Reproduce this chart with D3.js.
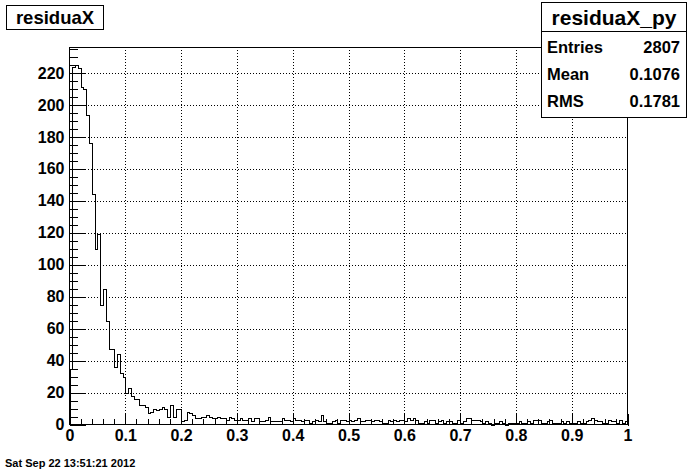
<!DOCTYPE html>
<html><head><meta charset="utf-8">
<script src="https://cdn.jsdelivr.net/npm/d3@7"></script>
<style>
html,body{margin:0;padding:0;background:#fff;}
svg{display:block;}
text{font-family:"Liberation Sans",Arial,Helvetica,sans-serif;font-weight:bold;fill:#000;}
</style></head>
<body>
<svg id="c" width="696" height="472"></svg>
<script>
// ---- data ----
const histTitle = "residuaX";
const statsTitle = "residuaX_py";
const statNames = ["Entries", "Mean", "RMS"];
const statValues = ["2807", "0.1076", "0.1781"];
const xRange = [0, 1];
const nBins = 200;
const counts = [
  35,224,225,223,211,210,194,176,144,110,119,75,85,65,47,47,36,44,32,30,
  20,23,18,16,16,12,12,11,7,8,10,9,10,11,10,5,12,5,10,10,
  2,3,8,7,6,4,4,5,5,6,5,4,4,5,4,4,3,5,4,3,
  3,4,3,3,4,2,4,4,2,2,3,5,2,2,2,2,4,3,3,2,
  4,3,3,2,3,3,1,2,3,2,6,2,1,1,2,3,1,3,3,2,
  3,2,3,4,2,2,3,3,2,3,3,2,1,1,3,2,3,2,3,3,
  2,4,3,4,3,1,1,2,1,3,3,1,2,3,1,2,2,1,1,3,
  1,2,4,4,3,3,3,2,1,2,1,0,1,1,2,1,0,1,1,1,
  1,2,1,1,2,1,3,3,3,1,1,2,3,1,1,1,2,1,2,1,
  1,1,2,1,1,2,3,4,3,2,2,1,1,3,2,2,1,3,1,2
];
const xTickValues = [0,0.1,0.2,0.3,0.4,0.5,0.6,0.7,0.8,0.9,1];
const xTickLabels = ["0","0.1","0.2","0.3","0.4","0.5","0.6","0.7","0.8","0.9","1"];
const yTickValues = [0,20,40,60,80,100,120,140,160,180,200,220];
const dateText = "Sat Sep 22 13:51:21 2012";

// ---- layout ----
const svg = d3.select("#c");
const L = 69.5, R = 627.5, B = 424.5;
const yMax = d3.max(counts) * 1.05;
const x = d3.scaleLinear().domain(xRange).range([L, R]);
const y = d3.scaleLinear().domain([0, yMax]).range([B, 47]);
const T = y(yMax);

svg.append("rect").attr("width",696).attr("height",472).attr("fill","#fff");

// grid
const g = svg.append("g").attr("stroke","#000").attr("stroke-width",1).attr("stroke-dasharray","1,2").attr("shape-rendering","crispEdges");
xTickValues.slice(1,-1).forEach(v=>{
  g.append("line").attr("x1",Math.round(x(v))+0.5).attr("x2",Math.round(x(v))+0.5).attr("y1",T).attr("y2",B);
});
yTickValues.slice(1).forEach(v=>{
  g.append("line").attr("x1",L).attr("x2",R).attr("y1",Math.round(y(v))+0.5).attr("y2",Math.round(y(v))+0.5);
});

// histogram outline
const bw = (xRange[1]-xRange[0])/nBins;
const pts = [[xRange[0],0]];
counts.forEach((c,i)=>{ pts.push([xRange[0]+i*bw, c]); });
pts.push([xRange[1], counts[counts.length-1]]);
pts.push([xRange[1], 0]);
const line = d3.line().x(d=>Math.round(x(d[0]))+0.5).y(d=>Math.round(y(d[1]))+0.5).curve(d3.curveStepAfter);
svg.append("path").attr("d", line(pts)).attr("fill","none").attr("stroke","#000").attr("stroke-width",1).attr("shape-rendering","crispEdges");

// axes: x
const xMinor = d3.range(0, 51).map(i=>i*0.02);
const xa = svg.append("g").attr("transform",`translate(0,${B})`);
xa.call(d3.axisBottom(x).tickValues(xMinor).tickSize(-6).tickFormat(""));
xa.call(g2=>g2.selectAll(".domain").remove());
const xb = svg.append("g").attr("transform",`translate(0,${B})`);
xb.call(d3.axisBottom(x).tickValues(xTickValues).tickSize(-11).tickPadding(5).tickFormat((d,i)=>xTickLabels[i]));
xb.select(".domain").remove();
[xa,xb].forEach(a=>a.selectAll("line").attr("stroke","#000").attr("shape-rendering","crispEdges"));
xb.selectAll("text").attr("font-size",16).attr("font-family","Liberation Sans, Arial, sans-serif").attr("font-weight","bold").attr("fill","#000");

// axes: y
const yMinor = d3.range(0, Math.floor(yMax/5)+1).map(i=>i*5);
const ya = svg.append("g").attr("transform",`translate(${L},0)`);
ya.call(d3.axisLeft(y).tickValues(yMinor).tickSize(-8.4).tickFormat(""));
ya.select(".domain").remove();
const yb = svg.append("g").attr("transform",`translate(${L},0)`);
yb.call(d3.axisLeft(y).tickValues(yTickValues).tickSize(-16.7).tickPadding(5));
yb.select(".domain").remove();
[ya,yb].forEach(a=>a.selectAll("line").attr("stroke","#000").attr("shape-rendering","crispEdges"));
yb.selectAll("text").attr("font-size",16).attr("font-family","Liberation Sans, Arial, sans-serif").attr("font-weight","bold").attr("fill","#000");

// frame
svg.append("rect").attr("x",L).attr("y",Math.round(T)+0.5).attr("width",R-L).attr("height",B-Math.round(T)-0.5)
  .attr("fill","none").attr("stroke","#000").attr("shape-rendering","crispEdges");

// title box
svg.append("rect").attr("x",6.5).attr("y",5.5).attr("width",97).attr("height",24).attr("fill","#fff").attr("stroke","#000").attr("shape-rendering","crispEdges");
svg.append("text").attr("x",55).attr("y",23.5).attr("text-anchor","middle").attr("font-size",18.5).text(histTitle);

// stats box
const sx = 541.5, sw = 145, sy = 2.5, sh = 115;
svg.append("rect").attr("x",sx).attr("y",sy).attr("width",sw).attr("height",sh).attr("fill","#fff").attr("stroke","#000").attr("shape-rendering","crispEdges");
svg.append("line").attr("x1",sx).attr("x2",sx+sw).attr("y1",31.5).attr("y2",31.5).attr("stroke","#000").attr("shape-rendering","crispEdges");
svg.append("text").attr("x",sx+sw/2).attr("y",24.5).attr("text-anchor","middle").attr("font-size",21).text(statsTitle);
statNames.forEach((n,i)=>{
  const by = 53 + i*27;
  svg.append("text").attr("x",547).attr("y",by).attr("font-size",16.5).text(n);
  svg.append("text").attr("x",680).attr("y",by).attr("text-anchor","end").attr("font-size",16.5).text(statValues[i]);
});

// date
svg.append("text").attr("x",5).attr("y",467).attr("font-size",11).text(dateText);
</script>
</body></html>
